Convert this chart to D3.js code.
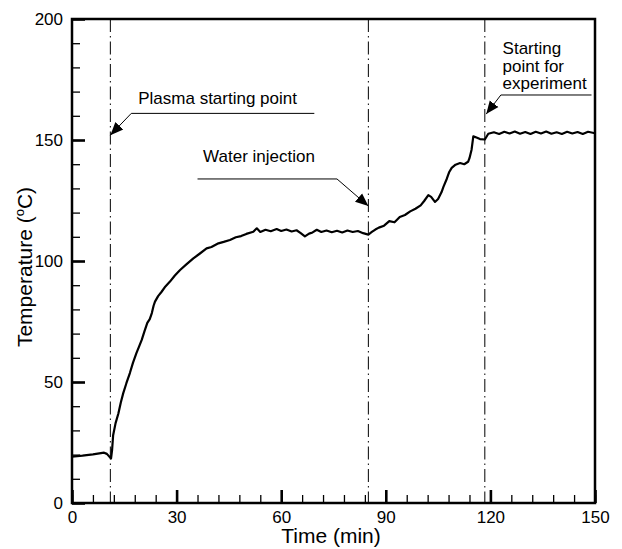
<!DOCTYPE html>
<html lang="en">
<head>
    <meta charset="UTF-8">
    <title>Temperature vs time</title>
    <script type="text/javascript" src="https://cdn.jsdelivr.net/npm/d3@7/dist/d3.min.js"></script>
    <style>
        body { margin: 0; background: #fff; }
        text { font-family: Arial, "Liberation Sans", sans-serif; fill: #000; }
    </style>
</head>
<body>
<script>
    // time (min) and temperature (°C)
    const timeMin = [0, 3, 6, 9.2, 10, 11.2, 11.5, 11.8, 12.5, 13.3, 14, 14.7, 15.6, 16.6, 17.5, 18.5, 19.2, 20, 20.8, 21.6,
        22.3, 22.9, 23.4, 23.8, 24.7, 25.7, 26.8, 28.1, 29.5, 31, 32.8, 34.8, 36.6, 38.6, 40, 42, 43.5, 45.3, 47, 48.5,
        50, 52, 53, 54, 55.5, 57, 58.7, 60, 61.5, 63, 64.4, 65.5, 66.8, 68, 69, 70.2, 71.5, 73, 74.5, 76,
        77.5, 79, 80.5, 82, 83.5, 85, 86, 87, 88, 89.5, 91, 92.5, 94, 95.5, 97, 98.5, 100, 101, 102.2, 103,
        104.1, 105, 106, 106.5, 107.5, 108.2, 108.9, 110, 111.3, 112.5, 113.6, 114, 114.6, 115.1, 116, 117, 118.4, 119.4, 121, 122.5,
        124, 125.5, 127, 128.5, 130, 131.5, 133, 134.5, 136, 137.5, 139, 140.5, 142, 143.5, 145, 146.5, 148, 150];
    const tempC = [19.2, 19.6, 20.1, 20.8, 20.3, 18.4, 22, 28, 33, 37, 41.5, 45.4, 49.5, 53.7, 58, 62, 64.5, 67.4, 71, 74.4,
        76, 78.5, 81.5, 83.2, 85.5, 87.3, 89.5, 91.5, 94, 96.3, 98.6, 101.1, 103, 105.2, 105.8, 107.3, 107.9, 108.7, 109.8, 110.3,
        111.2, 112.1, 113.5, 112, 112.9, 112.3, 113.2, 112.4, 113, 112.2, 112.7, 111.6, 110.2, 111.3, 111.8, 112.9, 112, 112.6, 111.9, 112.5,
        111.8, 112.6, 112, 112.4, 111.5, 110.9, 112, 113, 113.8, 114.6, 116.5, 116, 118.2, 119, 120.5, 121.6, 123, 124.8, 127.2, 126.5,
        124.4, 125.6, 128.5, 130.5, 134, 136.8, 138.5, 139.8, 140.5, 140, 141, 142.5, 146, 151.5, 151, 150.4, 150.2, 152.6, 153.2, 152.5,
        153.4, 152.7, 153.5, 152.6, 153.3, 152.5, 153.4, 152.7, 153.5, 152.6, 153.2, 152.5, 153.4, 152.7, 153.3, 152.5, 153.4, 152.8];

    const xTicks = [0, 30, 60, 90, 120, 150];
    const yTicks = [0, 50, 100, 150, 200];

    // event markers (min)
    const eventTimes = [11, 85, 118.4];
    const notes = [
        {lines: ['Plasma starting point'], textAt: [19, 165], bend: [17, 161], tail: [69.5, 161], tip: [11, 152]},
        {lines: ['Water injection'], textAt: [37.6, 140.8], bend: [76, 133.9], tail: [36, 133.9], tip: [85, 122.7]},
        {lines: ['Starting', 'point for', 'experiment'], textAt: [123.5, 185.5], bend: [123, 168.6], tail: [149, 168.6], tip: [118.8, 160.7]}
    ];

    const width = 622, height = 549;
    const margin = {top: 19, right: 27, bottom: 46, left: 72};
    const iw = width - margin.left - margin.right, ih = height - margin.top - margin.bottom;

    const x = d3.scaleLinear().domain([0, 150]).range([0, iw]);
    const y = d3.scaleLinear().domain([0, 200]).range([ih, 0]);

    const svg = d3.select('body').append('svg')
        .attr('width', width)
        .attr('height', height);

    svg.append('defs').append('marker')
        .attr('id', 'arr')
        .attr('viewBox', '0 0 10 10')
        .attr('refX', 10).attr('refY', 5)
        .attr('markerWidth', 13).attr('markerHeight', 13)
        .attr('markerUnits', 'userSpaceOnUse')
        .attr('orient', 'auto')
        .append('path')
        .attr('d', 'M0,0.8L10,5L0,9.2Z')
        .attr('fill', '#000');

    const g = svg.append('g').attr('transform', `translate(${margin.left},${margin.top})`);

    // event lines
    g.selectAll('.ev').data(eventTimes).enter().append('line')
        .attr('class', 'ev')
        .attr('x1', d => x(d)).attr('x2', d => x(d))
        .attr('y1', 0).attr('y2', ih)
        .attr('stroke', '#000').attr('stroke-width', 1)
        .attr('stroke-dasharray', '13,4,1.5,4');

    // trace
    const pts = timeMin.map((t, i) => [t, tempC[i]]);
    g.append('path')
        .datum(pts)
        .attr('fill', 'none')
        .attr('stroke', '#000')
        .attr('stroke-width', 2.2)
        .attr('stroke-linejoin', 'round')
        .attr('d', d3.line().x(d => x(d[0])).y(d => y(d[1])));

    // annotations
    notes.forEach(n => {
        g.append('path')
            .attr('d', d3.line()([[x(n.tail[0]), y(n.tail[1])], [x(n.bend[0]), y(n.bend[1])], [x(n.tip[0]), y(n.tip[1])]]))
            .attr('fill', 'none')
            .attr('stroke', '#000')
            .attr('stroke-width', 1)
            .attr('marker-end', 'url(#arr)');
        g.append('text')
            .attr('x', x(n.textAt[0]))
            .attr('y', y(n.textAt[1]))
            .style('font-size', '17px')
            .selectAll('tspan').data(n.lines).enter().append('tspan')
            .attr('x', x(n.textAt[0]))
            .attr('dy', (d, i) => i ? 17.5 : 0)
            .text(d => d);
    });

    // frame
    g.append('rect')
        .attr('width', iw).attr('height', ih)
        .attr('fill', 'none')
        .attr('stroke', '#000').attr('stroke-width', 2.5);

    // minor ticks (inward)
    g.append('g')
        .attr('transform', `translate(0,${ih})`)
        .call(d3.axisBottom(x).tickValues(d3.range(0, 151, 6)).tickSize(-8).tickSizeOuter(0).tickFormat(''))
        .call(a => a.select('.domain').remove())
        .call(a => a.selectAll('line').attr('stroke', '#000').attr('stroke-width', 1.3));
    g.append('g')
        .call(d3.axisLeft(y).tickValues(d3.range(0, 201, 10)).tickSize(-8).tickSizeOuter(0).tickFormat(''))
        .call(a => a.select('.domain').remove())
        .call(a => a.selectAll('line').attr('stroke', '#000').attr('stroke-width', 1.3));

    // major ticks + labels
    g.append('g')
        .attr('transform', `translate(0,${ih})`)
        .call(d3.axisBottom(x).tickValues(xTicks).tickSize(-13).tickSizeOuter(0).tickPadding(8).tickFormat(d3.format('d')))
        .call(a => a.select('.domain').remove())
        .call(a => a.selectAll('line').attr('stroke', '#000').attr('stroke-width', 2.6))
        .call(a => a.selectAll('text').style('font-size', '17px'));
    g.append('g')
        .call(d3.axisLeft(y).tickValues(yTicks).tickSize(-13).tickSizeOuter(0).tickFormat(d3.format('d')))
        .call(a => a.select('.domain').remove())
        .call(a => a.selectAll('line').attr('stroke', '#000').attr('stroke-width', 2.6))
        .call(a => a.selectAll('text').style('font-size', '17px').attr('x', -9));

    // axis titles
    svg.append('text')
        .attr('x', 331).attr('y', 543)
        .attr('text-anchor', 'middle')
        .style('font-size', '21px')
        .text('Time (min)');
    const yt = svg.append('text')
        .attr('transform', `translate(32,${margin.top + ih / 2 + 6}) rotate(-90)`)
        .attr('text-anchor', 'middle')
        .style('font-size', '21px');
    yt.append('tspan').text('Temperature (');
    yt.append('tspan').attr('dy', -8).style('font-size', '13px').text('o');
    yt.append('tspan').attr('dy', 8).text('C)');
</script>
</body>
</html>
